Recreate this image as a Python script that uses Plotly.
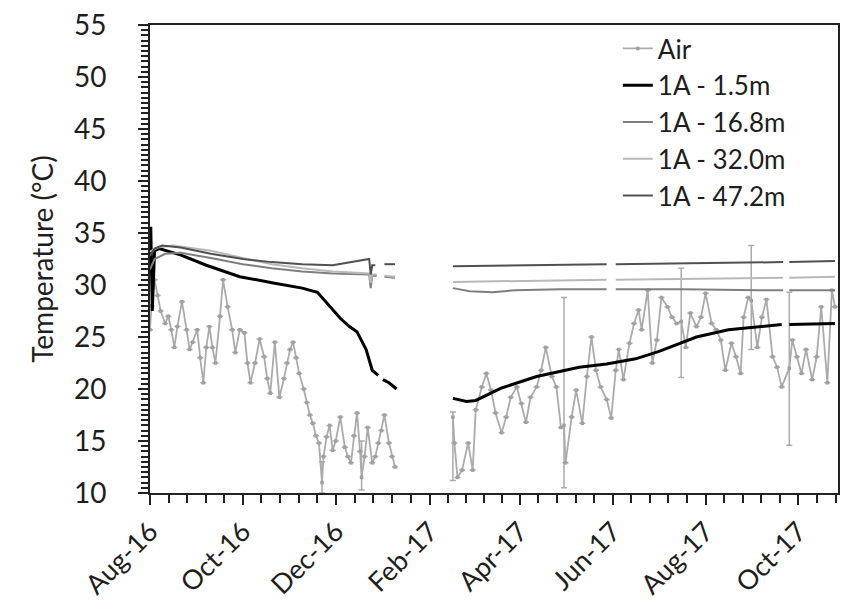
import pandas as pd
import plotly.graph_objects as go

BASE = pd.Timestamp("2016-08-01")

# ---- data (day offsets from 1 Aug 2016, temperatures in degC) ----
air_days = [0, 1, 3, 5, 7, 10, 12, 14, 16, 18, 21, 24, 26, 28, 31, 33, 35, 37, 39, 41, 43, 46, 48, 51, 54, 56,
            59, 62, 64, 66, 69, 72, 75, 77, 79, 82, 85, 88, 90, 92, 94, 96, 98, 101, 103, 105, 107, 109, 111,
            113, 114, 116, 118, 120, 122, 125, 128, 130, 132, 134, 136, 138, 139, 141, 143, 146, 148, 150, 152,
            154, 157, 159, 161, 180,
            199, 200, 202, 205, 209, 212, 214, 218, 221, 224, 227, 231, 234, 237, 241, 244, 247, 250, 254, 257,
            260, 264, 267, 270, 272, 273, 277, 280, 284, 287, 290, 293, 296, 300, 303, 306, 308, 311, 315, 318,
            321, 323, 327, 330, 333, 336, 340, 343, 346, 349, 352, 355, 359, 362, 365, 369, 372, 375, 378, 382,
            385, 388, 390, 393, 395, 399, 402, 405, 409, 412, 415, 420, 422, 425, 428, 431, 435, 438, 441, 445,
            448, 450]
air_temp = [25.7, 28.0, 30.5, 29.0, 27.5, 26.3, 27.0, 25.7, 24.0, 26.0, 28.4, 25.7, 23.8, 24.5, 25.7, 23.0, 20.6,
            24.0, 26.0, 24.0, 22.5, 27.0, 30.5, 27.9, 25.7, 23.5, 25.7, 25.4, 22.5, 20.6, 22.5, 24.8, 23.1, 21.0,
            19.6, 24.5, 19.2, 21.0, 22.5, 23.8, 24.5, 23.0, 21.5, 20.0, 18.7, 17.5, 16.7, 15.5, 14.8, 11.0, 13.5,
            15.4, 16.5, 14.1, 15.0, 17.3, 14.4, 13.5, 12.9, 15.5, 17.7, 14.0, 11.5, 13.5, 16.3, 12.9, 13.5, 14.8,
            16.0, 17.5, 14.8, 13.5, 12.5, None,
            17.3, 14.8, 11.5, 12.2, 14.8, 12.2, 18.0, 20.2, 21.5, 19.9, 17.7, 15.8, 17.3, 19.2, 20.2, 18.6, 16.8,
            19.2, 20.2, 21.8, 24.0, 21.2, 20.2, 16.3, 16.5, 12.9, 17.3, 19.9, 16.7, 21.2, 25.0, 21.8, 20.2, 19.0,
            17.2, 21.8, 23.8, 20.9, 24.4, 26.3, 27.6, 25.7, 29.5, 22.5, 24.7, 28.8, 27.9, 26.9, 26.3, 26.5, 24.0,
            27.3, 26.0, 26.9, 29.2, 26.3, 25.7, 24.7, 21.8, 24.4, 23.1, 21.5, 26.9, 28.8, 28.5, 24.0, 26.9, 28.6,
            23.1, 22.1, 20.2, 22.0, 24.7, 23.1, 21.5, 23.8, 20.9, 23.1, 27.9, 20.6, 29.5, 27.9]
# error bars on the air series (day, +err, -err)
air_err_days = [113, 139, 199, 272, 349, 395, 420]
air_err_plus = [2.0, 3.5, 0.5, 12.3, 5.1, 5.3, 7.3]
air_err_minus = [1.0, 1.2, 6.1, 6.0, 5.4, 4.7, 7.4]

t15_days = [0, 0.5, 1.5, 3, 6, 11, 20, 37, 59, 81, 100, 110, 116, 125, 131, 136, 142, 146, 150, 151, 153, 157, 162,
            180, 199, 208, 214, 231, 254, 282, 300, 319, 334, 352, 359, 380, 402, 415, 418, 420, 450]
t15_temp = [33.0, 35.6, 27.5, 33.3, 33.5, 33.3, 32.9, 31.9, 30.8, 30.2, 29.7, 29.3, 28.3, 26.8, 26.0, 25.5, 23.8,
            21.8, 21.3, None, 20.9, 20.6, 20.0,
            None, 19.1, 18.8, 18.9, 20.1, 21.2, 22.1, 22.4, 22.9, 23.6, 24.6, 25.0, 25.7, 26.0, 26.2, None, 26.2, 26.3]

t168_days = [0, 3, 10, 20, 40, 61, 80, 100, 120, 144, 145, 146, 149, 151, 154, 161,
             180, 199, 210, 225, 240, 270, 300, 303, 306, 350, 400, 416, 418, 420, 450]
t168_temp = [31.5, 32.5, 33.0, 33.1, 32.6, 32.0, 31.6, 31.3, 31.1, 31.0, 29.7, 30.9, 30.9, None, 30.8, 30.7,
             None, 29.7, 29.4, 29.3, 29.5, 29.6, 29.6, None, 29.6, 29.6, 29.5, 29.5, None, 29.5, 29.5]

t320_days = [0, 5, 15, 40, 61, 80, 100, 120, 144, 145, 146, 149, 151, 154, 161,
             180, 199, 250, 300, 303, 306, 350, 400, 416, 418, 420, 450]
t320_temp = [33.2, 33.6, 33.8, 33.3, 32.6, 32.0, 31.6, 31.3, 31.1, 30.2, 31.0, 31.0, None, 30.9, 30.8,
             None, 30.3, 30.4, 30.5, None, 30.5, 30.6, 30.7, 30.7, None, 30.7, 30.8]

t472_days = [0, 3, 8, 20, 40, 61, 80, 100, 120, 144, 145, 146, 148, 151, 154, 161,
             180, 199, 250, 300, 303, 306, 350, 400, 416, 418, 420, 450]
t472_temp = [32.8, 33.5, 33.8, 33.6, 33.0, 32.5, 32.2, 32.0, 31.9, 32.5, 31.0, 31.9, 31.9, None, 32.0, 32.0,
             None, 31.8, 31.9, 32.0, None, 32.0, 32.1, 32.2, 32.2, None, 32.2, 32.3]

series_names = ["Air", "1A - 1.5m", "1A - 16.8m", "1A - 32.0m", "1A - 47.2m"]
y_ticks = [10, 15, 20, 25, 30, 35, 40, 45, 50, 55]


def to_dates(days):
    return [BASE + pd.Timedelta(days=d) for d in days]


err_plus = [0.0] * len(air_days)
err_minus = [0.0] * len(air_days)
for d, p, m in zip(air_err_days, air_err_plus, air_err_minus):
    i = air_days.index(d)
    err_plus[i] = p
    err_minus[i] = m

FONT = "Lato"
TXT = "#1e1e1e"
fig = go.Figure()
fig.add_trace(go.Scatter(
    x=to_dates(air_days), y=air_temp, name=series_names[0], mode="lines+markers",
    line=dict(color="#ababab", width=1.8), marker=dict(color="#a0a0a0", size=3.5, symbol="square"),
    error_y=dict(type="data", symmetric=False, array=err_plus, arrayminus=err_minus,
                 color="#ababab", thickness=1.5, width=3),
    connectgaps=False))
fig.add_trace(go.Scatter(x=to_dates(t15_days), y=t15_temp, name=series_names[1], mode="lines",
                         line=dict(color="#000000", width=3), connectgaps=False))
fig.add_trace(go.Scatter(x=to_dates(t168_days), y=t168_temp, name=series_names[2], mode="lines",
                         line=dict(color="#7f7f7f", width=2), connectgaps=False))
fig.add_trace(go.Scatter(x=to_dates(t320_days), y=t320_temp, name=series_names[3], mode="lines",
                         line=dict(color="#b8b8b8", width=2), connectgaps=False))
fig.add_trace(go.Scatter(x=to_dates(t472_days), y=t472_temp, name=series_names[4], mode="lines",
                         line=dict(color="#505050", width=2), connectgaps=False))

# minor ticks: five per two-month major interval
majors = pd.date_range("2016-08-01", "2017-12-01", freq="2MS")
minor_vals = []
for a, b in zip(majors[:-1], majors[1:]):
    step = (b - a) / 5
    for k in range(1, 5):
        minor_vals.append(a + step * k)

fig.update_layout(
    width=844, height=609,
    margin=dict(l=150, r=4, t=25, b=116),
    paper_bgcolor="white", plot_bgcolor="white",
    font=dict(family=FONT, size=26, color=TXT),
    showlegend=True,
    legend=dict(x=0.68, y=1.0, xanchor="left", yanchor="top", bgcolor="rgba(0,0,0,0)",
                font=dict(family=FONT, size=26, color=TXT), tracegroupgap=0, itemwidth=30),
    xaxis=dict(
        type="date", range=["2016-08-01", "2017-10-27"],
        tickmode="array", tickvals=list(majors[:-1]), tickformat="%b-%y", tickangle=-45,
        ticks="outside", ticklen=10, tickwidth=1.5, tickcolor="#222222",
        showline=True, linecolor="#222222", linewidth=2, mirror=True, showgrid=False, zeroline=False,
        tickfont=dict(family=FONT, size=27, color=TXT),
        minor=dict(tickmode="array", tickvals=minor_vals, ticks="outside", ticklen=8, tickwidth=1.5,
                   tickcolor="#222222", showgrid=False),
    ),
    yaxis=dict(
        range=[10, 55], tickvals=y_ticks, ticks="outside", ticklen=10, tickwidth=1.5, tickcolor="#222222",
        showline=True, linecolor="#222222", linewidth=2, mirror=True, showgrid=False, zeroline=False,
        tickfont=dict(family=FONT, size=28, color=TXT), ticklabelstandoff=26,
        title=dict(text="Temperature (°C)", font=dict(family=FONT, size=28, color=TXT), standoff=12),
        minor=dict(dtick=0.5, ticks="outside", ticklen=7, tickwidth=1.5, tickcolor="#222222", showgrid=False),
    ),
)

fig.write_html("out.html")
